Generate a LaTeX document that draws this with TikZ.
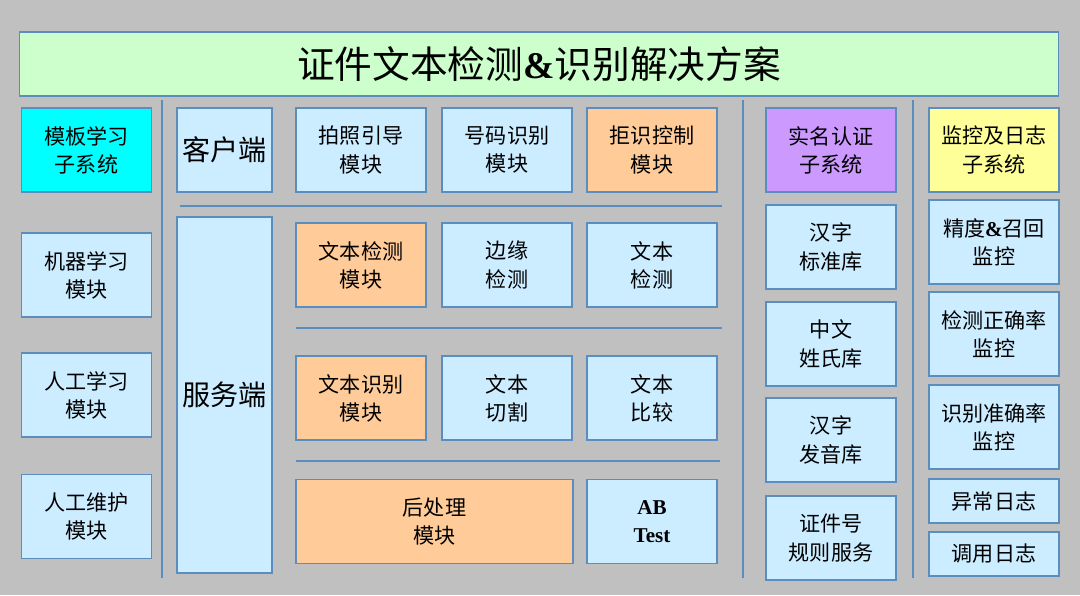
\documentclass[tikz,border=0pt]{standalone}
\usepackage{fontspec}
\setmainfont{Liberation Serif}
\newfontfamily\cjk{Noto Sans CJK SC}
\usetikzlibrary{positioning}
\definecolor{bggray}{HTML}{C0C0C0}
\definecolor{edgeblue}{HTML}{5B8DBE}
\definecolor{paleblue}{HTML}{CCECFF}
\definecolor{paleorange}{HTML}{FFCC99}
\definecolor{palegreen}{HTML}{CCFFCC}
\definecolor{cyanbox}{HTML}{00FFFF}
\definecolor{purplebox}{HTML}{CC99FF}
\definecolor{yellowbox}{HTML}{FFFF99}
\begin{document}
\begin{tikzpicture}[
  x=0.025cm, y=-0.025cm,
  box/.style={draw=edgeblue, line width=0.9pt, fill=paleblue,
              minimum width=3.25cm, minimum height=2.1cm, align=center,
              inner sep=2pt, font=\cjk\fontsize{15}{20}\selectfont},
  hot/.style={box, fill=paleorange},
  sep/.style={draw=edgeblue, line width=0.9pt}
]
  \fill[bggray] (0,0) rectangle (1080,595);
  \useasboundingbox (0,0) rectangle (1080,595);

  % title
  \node[box, fill=palegreen, minimum width=25.95cm, minimum height=1.6cm,
        font=\cjk\fontsize{26.8}{30}\selectfont] (title) at (539,64)
    {证件文本检测{\rmfamily\bfseries\&}识别解决方案};

  % template learning
  \node[box, fill=cyanbox] (tpl) at (86.5,150) {模板学习\\子系统};
  \node[box] (ml) at (86.5,275) {机器学习\\模块};
  \node[box] (manlearn) at (86.5,395) {人工学习\\模块};
  \node[box] (manfix) at (86.5,516.5) {人工维护\\模块};

  \draw[sep] (162,100) -- (162,578);

  % client / server
  \node[box, minimum width=2.375cm, font=\cjk\fontsize{20}{22}\selectfont]
    (client) at (224.5,150) {客户端};
  \node[box, minimum width=2.375cm, minimum height=8.9cm,
        font=\cjk\fontsize{20}{22}\selectfont] (server) at (224.5,395) {服务端};

  \node[box] (guide) at (361,150) {拍照引导\\模块};
  \node[box] (numrec) at (507,150) {号码识别\\模块};
  \node[hot] (reject) at (652,150) {拒识控制\\模块};
  \draw[sep] (180,206) -- (722,206);

  \node[hot] (detmod) at (361,265) {文本检测\\模块};
  \node[box] (edge) at (507,265) {边缘\\检测};
  \node[box] (textdet) at (652,265) {文本\\检测};
  \draw[sep] (296,328) -- (722,328);

  \node[hot] (recmod) at (361,398) {文本识别\\模块};
  \node[box] (cut) at (507,398) {文本\\切割};
  \node[box] (cmp) at (652,398) {文本\\比较};
  \draw[sep] (296,461) -- (720,461);

  \node[hot, minimum width=6.925cm] (post) at (434.5,521.5) {后处理\\模块};
  \node[box, font=\bfseries\fontsize{15}{20}\selectfont] (abtest) at (652,521.5) {AB\\Test};

  \draw[sep] (743,100) -- (743,578);

  % real-name authentication
  \node[box, fill=purplebox] (realname) at (831,150) {实名认证\\子系统};
  \node[box] (stdlib) at (831,247) {汉字\\标准库};
  \node[box] (surname) at (831,344) {中文\\姓氏库};
  \node[box] (pinyin) at (831,440) {汉字\\发音库};
  \node[box] (idrule) at (831,538) {证件号\\规则服务};

  \draw[sep] (913,100) -- (913,578);

  % monitoring and logs
  \node[box, fill=yellowbox] (monitor) at (994,150) {监控及日志\\子系统};
  \node[box] (prec) at (994,242) {精度{\rmfamily\bfseries\&}召回\\监控};
  \node[box] (detacc) at (994,334) {检测正确率\\监控};
  \node[box] (recacc) at (994,427) {识别准确率\\监控};
  \node[box, minimum height=1.1cm] (errlog) at (994,501) {异常日志};
  \node[box, minimum height=1.1cm] (calllog) at (994,554) {调用日志};
\end{tikzpicture}
\end{document}
